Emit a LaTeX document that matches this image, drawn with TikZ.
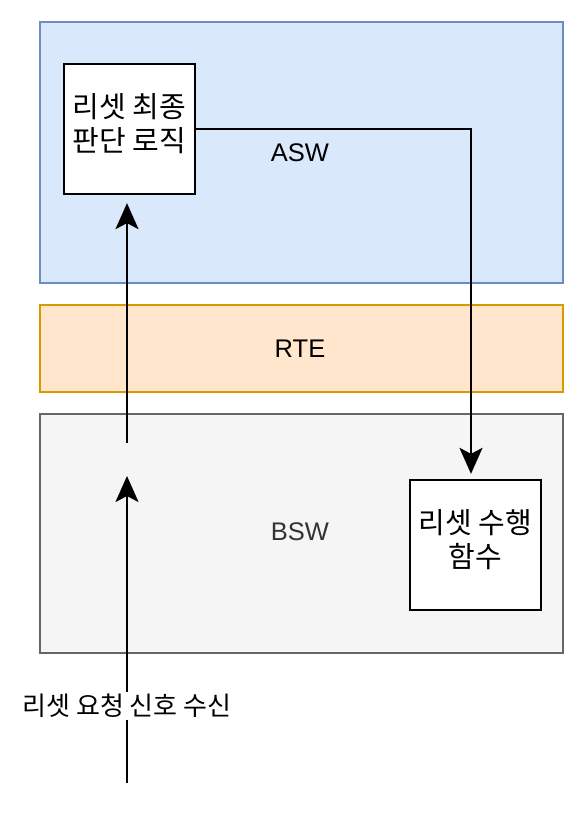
\documentclass[tikz,border=0pt]{standalone}
\usepackage{fontspec}
\setmainfont{Noto Sans CJK KR}
\newfontfamily\latinfont{Liberation Sans}
\usetikzlibrary{arrows.meta}
\definecolor{aswfill}{HTML}{DAE8FC}
\definecolor{aswline}{HTML}{6C8EBF}
\definecolor{rtefill}{HTML}{FFE6CC}
\definecolor{rteline}{HTML}{D79B00}
\definecolor{bswfill}{HTML}{F5F5F5}
\definecolor{bswline}{HTML}{666666}
\definecolor{bswtext}{HTML}{333333}
\tikzset{
  layer/.style={draw, line width=1.8pt},
  procbox/.style={draw=black, fill=white, line width=2.3pt, minimum width=131pt, minimum height=130pt, inner sep=0pt},
  boxtext/.style={align=center, inner sep=0pt, font=\fontsize{29}{34}\selectfont},
  layerlabel/.style={font=\latinfont\fontsize{25.5}{30}\selectfont},
  flow/.style={line width=2.2pt, -{Stealth[length=26pt,width=23pt,inset=6pt]}},
  plain/.style={line width=2.2pt},
  lbl/.style={font=\fontsize{26}{30}\selectfont, fill=white, inner sep=2pt}
}
\begin{document}
\begin{tikzpicture}[x=1pt,y=-1pt]
\useasboundingbox (0,0) rectangle (586,825);
\fill[white] (0,0) rectangle (586,825);
% layers
\draw[layer, fill=aswfill, draw=aswline] (40,22) rectangle (563,283);
\draw[layer, fill=rtefill, draw=rteline] (40,305) rectangle (563,392);
\draw[layer, fill=bswfill, draw=bswline] (40,414) rectangle (563,653);
\node[layerlabel] (asw) at (300,153) {ASW};
\node[layerlabel] (rte) at (300,349) {RTE};
\node[layerlabel, text=bswtext] (bsw) at (300,532) {BSW};
% boxes
\node[procbox] (decide) at (129.5,129) {};
\node[boxtext] (decidetext) at (129.5,124) {리셋 최종\\판단 로직};
\node[procbox] (exec) at (475.5,545) {};
\node[boxtext] (exectext) at (475.5,540) {리셋 수행\\함수};
% connectors
\coordinate (corner) at (471,129);
\coordinate (mid1) at (127,443);
\coordinate (mid2) at (127,476);
\coordinate (src) at (127,783);
\draw[flow] (decide.east |- corner) -- (corner) -- ([yshift=5pt]exec.north -| corner);
\draw[flow] (mid1) -- ([yshift=-8pt]decide.south -| mid1);
\draw[plain] (src) -- (127,706);
\draw[flow] (127,706) -- (mid2);
\node[lbl] (req) at (127,706) {리셋 요청 신호 수신};
\end{tikzpicture}
\end{document}
